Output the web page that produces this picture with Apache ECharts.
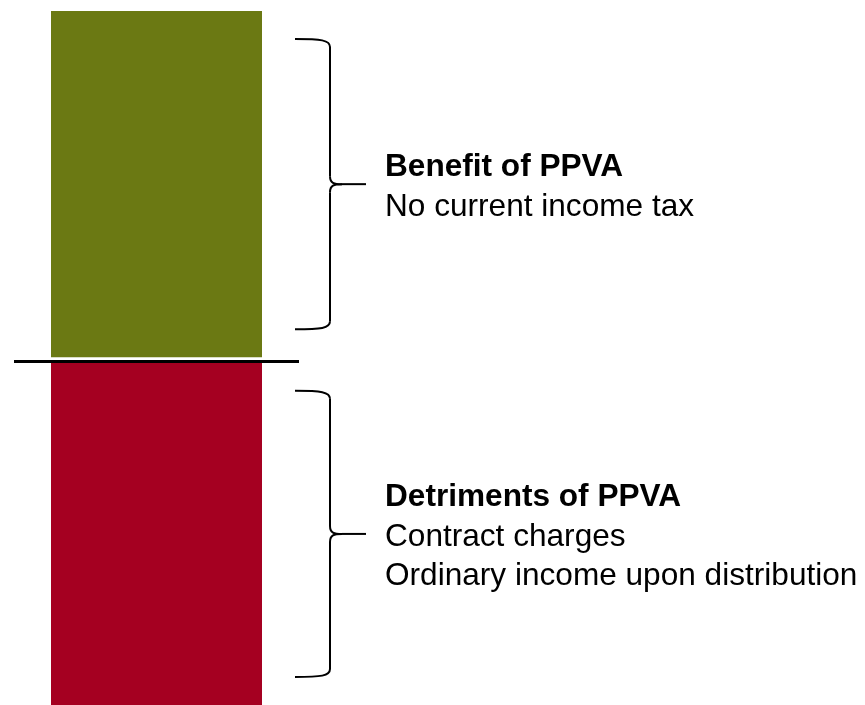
<!DOCTYPE html>
<html>
<head>
<meta charset="utf-8">
<script src="https://cdn.jsdelivr.net/npm/echarts@6/dist/echarts.min.js"></script>
<style>
  html, body { margin: 0; padding: 0; background: #fff; }
  #main { width: 865px; height: 705px; }
</style>
</head>
<body>
<div id="main"></div>
<script>
// stacked column, bottom to top: detriments, small gap, benefit
const categories = ['PPVA'];
const detrimentValues = [49.3];
const gapValues = [0.8];
const benefitValues = [49.9];
const dividerValue = 49.6;

const benefitLines = ['Benefit of PPVA', 'No current income tax'];
const detrimentLines = ['Detriments of PPVA', 'Contract charges', 'Ordinary income upon distribution'];

const chart = echarts.init(document.getElementById('main'), null, { renderer: 'canvas' });

chart.setOption({
  backgroundColor: '#fff',
  animation: false,
  grid: { left: 14, right: 566, top: 11, bottom: 0 },
  xAxis: { type: 'category', data: categories, show: false },
  yAxis: { type: 'value', min: 0, max: 100, show: false },
  series: [
    {
      name: 'Detriments', type: 'bar', stack: 'a', barWidth: 211,
      itemStyle: { color: '#A50021' },
      data: detrimentValues,
      markLine: {
        silent: true, symbol: 'none', label: { show: false },
        lineStyle: { color: '#000', width: 3, type: 'solid' },
        data: [{ yAxis: dividerValue }]
      }
    },
    {
      name: 'gap', type: 'bar', stack: 'a', silent: true,
      itemStyle: { color: 'rgba(0,0,0,0)' },
      data: gapValues
    },
    {
      name: 'Benefit', type: 'bar', stack: 'a',
      itemStyle: { color: '#6B7913' },
      data: benefitValues
    }
  ]
});

// brace + labels placed from the axis scale
function toY(v) { return chart.convertToPixel({ yAxisIndex: 0 }, v); }

function brace(y1, y2) {
  const x0 = 295, xv = 330, xt = 366, ym = (y1 + y2) / 2;
  const s = { stroke: '#000', lineWidth: 2, fill: 'none' };
  return [
    { type: 'bezierCurve', shape: { x1: x0, y1: y1, cpx1: x0 + 26, cpy1: y1, cpx2: xv, cpy2: y1 + 1, x2: xv, y2: y1 + 8 }, style: s },
    { type: 'line', shape: { x1: xv, y1: y1 + 8, x2: xv, y2: ym - 8 }, style: s },
    { type: 'bezierCurve', shape: { x1: xv, y1: ym - 8, cpx1: xv, cpy1: ym - 1, cpx2: xv + 4, cpy2: ym, x2: xv + 12, y2: ym }, style: s },
    { type: 'line', shape: { x1: xv + 12, y1: ym, x2: xt, y2: ym }, style: s },
    { type: 'bezierCurve', shape: { x1: xv + 12, y1: ym, cpx1: xv + 4, cpy1: ym, cpx2: xv, cpy2: ym + 1, x2: xv, y2: ym + 8 }, style: s },
    { type: 'line', shape: { x1: xv, y1: ym + 8, x2: xv, y2: y2 - 8 }, style: s },
    { type: 'bezierCurve', shape: { x1: xv, y1: y2 - 8, cpx1: xv, cpy1: y2 - 1, cpx2: x0 + 26, cpy2: y2, x2: x0, y2: y2 }, style: s }
  ];
}

function labels(lines, ym) {
  const lh = 39.5;
  return lines.map((t, i) => ({
    type: 'text',
    x: 385,
    y: ym + 3 + (i - (lines.length - 1) / 2) * lh,
    style: {
      text: t,
      fill: '#000',
      font: (i === 0 ? 'bold ' : '') + '31.6px "Liberation Sans", Arial, sans-serif',
      textVerticalAlign: 'middle',
      verticalAlign: 'middle'
    }
  }));
}

const detTop = toY(detrimentValues[0]);
const detBot = toY(0);
const benBot = toY(detrimentValues[0] + gapValues[0]);
const benTop = toY(detrimentValues[0] + gapValues[0] + benefitValues[0]);
const inset = 28;

const graphic = []
  .concat(brace(benTop + inset, benBot - inset))
  .concat(labels(benefitLines, (benTop + benBot) / 2))
  .concat(brace(detTop + inset, detBot - inset))
  .concat(labels(detrimentLines, (detTop + detBot) / 2));

chart.setOption({ graphic: graphic });
</script>
</body>
</html>
